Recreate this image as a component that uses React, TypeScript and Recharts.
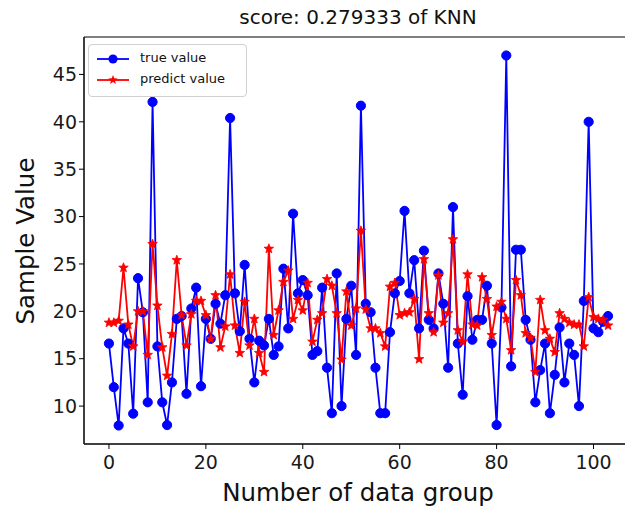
import { LineChart, Line, XAxis, YAxis, ReferenceArea } from "recharts";

const trueValues = [
  16.6, 12.0, 7.95, 18.2, 16.6, 9.2, 23.5, 19.9, 10.4, 42.1,
  16.3, 10.4, 8.0, 12.5, 19.2, 19.5, 11.3, 20.3, 22.5, 12.1,
  19.2, 17.1, 20.8, 18.7, 21.7, 40.4, 21.9, 17.9, 24.9, 17.1,
  12.5, 16.9, 16.4, 19.2, 15.4, 16.3, 24.5, 18.2, 30.3, 21.9,
  23.3, 21.7, 15.4, 15.8, 22.5, 14.05, 9.25, 24.0, 10.0, 19.2,
  22.7, 15.4, 41.7, 20.8, 19.9, 14.05, 9.25, 9.25, 17.8, 21.9,
  23.2, 30.6, 21.9, 25.4, 18.2, 26.4, 19.1, 18.2, 24.0, 20.8,
  14.05, 31.0, 16.6, 11.2, 21.6, 17.0, 19.1, 19.1, 22.7, 16.6,
  8.0, 20.4, 47.0, 14.2, 26.5, 26.5, 19.1, 17.0, 10.4, 13.8,
  16.6, 9.25, 13.3, 18.3, 12.5, 16.6, 15.4, 10.0, 21.1, 40.0,
  18.2, 17.8, 18.9, 19.5,
];

const predictValues = [
  18.8, 18.8, 19.0, 24.6, 18.6, 16.3, 20.0, 20.0, 15.4, 27.1,
  20.6, 16.2, 13.2, 17.6, 25.4, 19.6, 16.4, 19.7, 21.1, 21.1,
  19.6, 17.1, 21.7, 16.2, 18.4, 23.9, 18.5, 15.6, 21.0, 16.4,
  19.2, 15.6, 13.6, 26.6, 17.5, 20.1, 23.1, 24.3, 19.2, 21.2,
  20.1, 23.0, 16.8, 19.1, 19.8, 23.4, 22.7, 19.8, 14.9, 22.1,
  18.5, 20.3, 28.5, 20.2, 18.2, 18.2, 17.7, 16.3, 22.6, 23.0,
  19.6, 19.8, 19.9, 21.3, 14.95, 25.5, 19.8, 17.8, 23.8, 18.8,
  19.8, 27.6, 18.0, 16.8, 23.9, 18.6, 18.5, 23.6, 21.3, 17.5,
  20.5, 21.0, 19.2, 15.9, 23.3, 21.7, 17.7, 17.2, 13.6, 21.2,
  18.0, 17.1, 15.7, 19.8, 19.2, 18.8, 18.6, 18.6, 16.3, 21.5,
  19.4, 19.2, 19.1, 18.5,
];

const xTicks = [0, 20, 40, 60, 80, 100];
const yTicks = [10, 15, 20, 25, 30, 35, 40, 45];

const data = trueValues.map((v, i) => ({
  idx: i,
  trueValue: v,
  predictValue: predictValues[i],
}));

const FONT = "'DejaVu Sans', sans-serif";
const X_DOMAIN: [number, number] = [-5.15, 108.15];
const Y_DOMAIN: [number, number] = [6.0, 48.95];

function starPath(cx: number, cy: number, R: number, r: number) {
  let d = "";
  for (let k = 0; k < 10; k++) {
    const a = -Math.PI / 2 + (k * Math.PI) / 5;
    const rad = k % 2 === 0 ? R : r;
    d += (k === 0 ? "M" : "L") + (cx + rad * Math.cos(a)).toFixed(2) + "," + (cy + rad * Math.sin(a)).toFixed(2);
  }
  return d + "Z";
}

const renderStar = (props: any) => {
  const { cx, cy, index } = props;
  if (cx == null || cy == null) return <g key={index} />;
  return <path key={index} d={starPath(cx, cy, 5, 2.1)} fill="#ff0000" stroke="#ff0000" strokeWidth={0.8} />;
};

export default function App() {
  return (
    <div
      style={{
        position: "fixed",
        left: 0,
        top: 0,
        width: 625,
        height: 513,
        overflow: "hidden",
        background: "#fff",
        fontFamily: FONT,
      }}
    >
      <LineChart
        width={633}
        height={513}
        data={data}
        margin={{ top: 37, right: 0, bottom: 0, left: 0 }}
      >
        {/* axes frame */}
        <ReferenceArea
          x1={X_DOMAIN[0]}
          x2={X_DOMAIN[1]}
          y1={Y_DOMAIN[0]}
          y2={Y_DOMAIN[1]}
          fill="none"
          fillOpacity={0}
          stroke="#000"
          strokeWidth={1}
          ifOverflow="visible"
        />
        <XAxis
          dataKey="idx"
          type="number"
          domain={X_DOMAIN}
          ticks={xTicks}
          allowDataOverflow
          height={69}
          tickSize={5}
          stroke="#000"
          tick={{ fill: "#1a1a1a", fontSize: 19, fontFamily: FONT, dy: 5 }}
        />
        <YAxis
          type="number"
          domain={Y_DOMAIN}
          ticks={yTicks}
          allowDataOverflow
          width={84}
          tickSize={5}
          stroke="#000"
          tick={{ fill: "#1a1a1a", fontSize: 19, fontFamily: FONT }}
        />
        <Line
          dataKey="trueValue"
          stroke="#0000ff"
          strokeWidth={1.8}
          dot={{ r: 4.6, fill: "#0000ff", stroke: "#0000ff", strokeWidth: 1 }}
          isAnimationActive={false}
        />
        <Line
          dataKey="predictValue"
          stroke="#ff0000"
          strokeWidth={1.8}
          dot={renderStar}
          isAnimationActive={false}
        />
      </LineChart>

      <div
        style={{
          position: "absolute",
          left: 358,
          top: 5,
          transform: "translateX(-50%)",
          fontSize: 20,
          color: "#111",
          whiteSpace: "nowrap",
        }}
      >
        score: 0.279333 of KNN
      </div>

      <div
        style={{
          position: "absolute",
          left: 358,
          top: 478,
          transform: "translateX(-50%)",
          fontSize: 24.5,
          color: "#111",
          whiteSpace: "nowrap",
        }}
      >
        Number of data group
      </div>

      <div
        style={{
          position: "absolute",
          left: 25,
          top: 241,
          transform: "translate(-50%, -50%) rotate(-90deg)",
          fontSize: 24.5,
          color: "#111",
          whiteSpace: "nowrap",
        }}
      >
        Sample Value
      </div>

      <div
        style={{
          position: "absolute",
          left: 88,
          top: 44,
          width: 157,
          height: 51,
          border: "1px solid #d0d0d0",
          borderRadius: 4,
          background: "rgba(255,255,255,0.85)",
          fontSize: 13,
          color: "#111",
          zIndex: 6,
        }}
      >
        <svg width={48} height={51} style={{ position: "absolute", left: 0, top: 0 }}>
          <line x1={8} y1={14} x2={40} y2={14} stroke="#0000ff" strokeWidth={1.8} />
          <circle cx={24} cy={14} r={4.6} fill="#0000ff" />
          <line x1={8} y1={35} x2={40} y2={35} stroke="#ff0000" strokeWidth={1.8} />
          <path d={starPath(24, 35, 5, 2.1)} fill="#ff0000" />
        </svg>
        <div style={{ position: "absolute", left: 51, top: 5, whiteSpace: "nowrap" }}>true value</div>
        <div style={{ position: "absolute", left: 51, top: 26, whiteSpace: "nowrap" }}>predict value</div>
      </div>
    </div>
  );
}
